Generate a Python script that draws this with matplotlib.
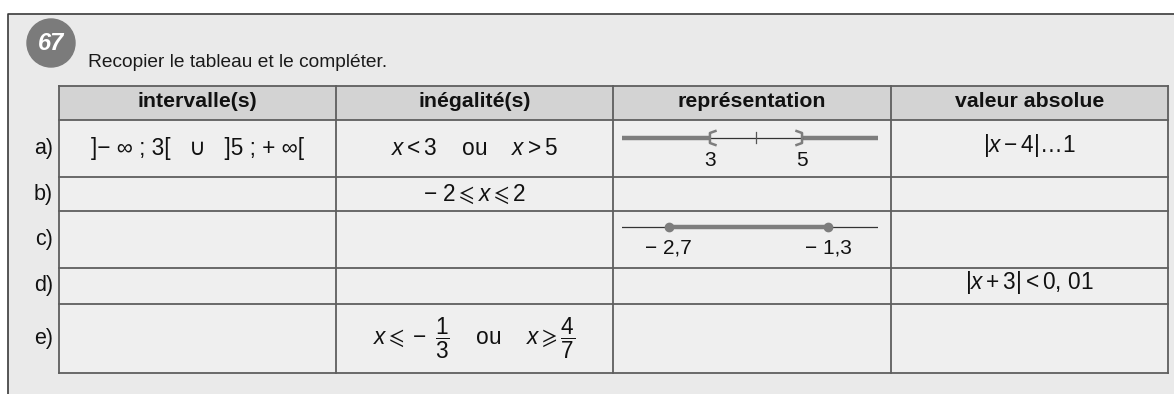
import matplotlib.pyplot as plt
from matplotlib.patches import Rectangle, Circle

plt.rcParams['font.family'] = ['Liberation Sans', 'DejaVu Sans']
plt.rcParams['mathtext.fontset'] = 'custom'
plt.rcParams['mathtext.rm'] = 'Liberation Sans'
plt.rcParams['mathtext.it'] = 'Liberation Sans:italic'
plt.rcParams['mathtext.bf'] = 'Liberation Sans:bold'
plt.rcParams['mathtext.fallback'] = 'stixsans'

# --- contenu du tableau ---
exercise_number = "67"
instruction = "Recopier le tableau et le compléter."
headers = ["intervalle(s)", "inégalité(s)", "représentation", "valeur absolue"]
row_labels = ["a)", "b)", "c)", "d)", "e)"]
intervals = ["]− ∞ ; 3[   ∪   ]5 ; + ∞[", "", "", "", ""]
inequalities = [
    r"$x<3\quad\ \mathrm{ou}\quad\ x>5$",
    r"$-\ 2\leqslant x\leqslant 2$",
    "",
    "",
    r"$x\leqslant -\ \dfrac{1}{3}\quad\ \mathrm{ou}\quad\ x\geqslant \dfrac{4}{7}$",
]
absolute_values = [r"$|x-4|\ldots1$", "", "", r"$|x+3|<0,\,01$", ""]

# droites graduées (lignes a et c)
line_a_bounds = [3, 5]
line_a_tick = 4
line_a_labels = ["3", "5"]
line_c_bounds = [-2.7, -1.3]
line_c_labels = ["− 2,7", "− 1,3"]

# --- mise en page (pixels) ---
W, H = 1174, 394
col_edges = [59, 336, 613, 891, 1168]
row_edges = [86, 120, 177, 211, 268, 304, 373]
line_left, line_right = 622, 878

fig = plt.figure(figsize=(W / 100, H / 100), dpi=100)
fig.patch.set_facecolor("white")
ax = fig.add_axes([0, 0, 1, 1])
ax.set_xlim(0, W)
ax.set_ylim(H, 0)
ax.axis('off')

# fond de page + cadre
ax.add_patch(Rectangle((8, 14), W - 8, H - 14, color="#eaeaea", zorder=0))
ax.plot([8, 8, W], [H, 14, 14], color="#3a3a3a", lw=1.2, zorder=1)

# pastille du numéro
ax.add_patch(Circle((51, 43), 24, color="#7b7b7b", zorder=2))
ax.text(51, 43, exercise_number, color="white", fontsize=17, fontweight="bold",
        style="italic", ha="center", va="center", zorder=3)
ax.text(88, 62, instruction, fontsize=13.8, color="#1a1a1a", ha="left", va="center")

# fonds du tableau
ax.add_patch(Rectangle((col_edges[0], row_edges[0]), col_edges[-1] - col_edges[0],
                       row_edges[1] - row_edges[0], color="#d3d3d3", zorder=1))
ax.add_patch(Rectangle((col_edges[0], row_edges[1]), col_edges[-1] - col_edges[0],
                       row_edges[-1] - row_edges[1], color="#efefef", zorder=1))

# grille
for y in row_edges:
    ax.plot([col_edges[0], col_edges[-1]], [y, y], color="#5e5e5e", lw=1.3, zorder=2)
for x in col_edges:
    ax.plot([x, x], [row_edges[0], row_edges[-1]], color="#5e5e5e", lw=1.3, zorder=2)

def cell_center(r, c):
    return (col_edges[c] + col_edges[c + 1]) / 2, (row_edges[r] + row_edges[r + 1]) / 2

# en-têtes
for c, h in enumerate(headers):
    x, y = cell_center(0, c)
    ax.text(x, y - 2, h, fontsize=15.3, fontweight="bold", color="#111111",
            ha="center", va="center", zorder=3)

# lignes
for i, lab in enumerate(row_labels):
    _, y = cell_center(i + 1, 0)
    ax.text(53, y, lab, fontsize=15.5, color="#111111", ha="right", va="center")
    for c, col in enumerate([intervals, inequalities, None, absolute_values]):
        if col is None or not col[i]:
            continue
        x, yc = cell_center(i + 1, c)
        if c == 3:
            yc -= 3
        ax.text(x, yc, col[i], fontsize=16.3, color="#111111",
                ha="center", va="center", zorder=3)

def line_axes(row, xlim):
    top, bottom = row_edges[row], row_edges[row + 1]
    nax = fig.add_axes([line_left / W, 1 - bottom / H,
                        (line_right - line_left) / W, (bottom - top) / H])
    nax.set_xlim(*xlim)
    nax.set_ylim(bottom - top, 0)
    nax.axis('off')
    return nax

grey_thick = "#7d7d7d"
dark_thin = "#333333"

# a) ]-inf ; 3[ U ]5 ; +inf[
xlim_a = (1.09, 6.65)
ya = 18
na = line_axes(1, xlim_a)
na.plot([xlim_a[0], line_a_bounds[0]], [ya, ya], color=grey_thick, lw=3.2, solid_capstyle="butt")
na.plot([line_a_bounds[1], xlim_a[1]], [ya, ya], color=grey_thick, lw=3.2, solid_capstyle="butt")
na.plot(line_a_bounds, [ya, ya], color=dark_thin, lw=0.9)
na.plot([line_a_tick, line_a_tick], [ya - 6, ya + 5], color="#555555", lw=0.9)
d = 0.12
lo, hi = line_a_bounds
na.plot([lo + d, lo, lo, lo + d], [ya - 7, ya - 5, ya + 5, ya + 7], color=grey_thick, lw=1.8)
na.plot([hi - d, hi, hi, hi - d], [ya - 7, ya - 5, ya + 5, ya + 7], color=grey_thick, lw=1.8)
for v, lab in zip(line_a_bounds, line_a_labels):
    na.text(v, 40, lab, fontsize=15, color="#111111", ha="center", va="center")

# c) [-2,7 ; -1,3]
xlim_c = (-3.11, -0.86)
yc_line = 16
nc = line_axes(3, xlim_c)
nc.plot(xlim_c, [yc_line, yc_line], color=dark_thin, lw=0.9)
nc.plot(line_c_bounds, [yc_line, yc_line], color=grey_thick, lw=3.2,
        marker="o", markersize=6, solid_capstyle="butt")
for v, lab in zip(line_c_bounds, line_c_labels):
    nc.text(v, 37, lab, fontsize=15, color="#111111", ha="center", va="center")

fig.savefig("out.png", dpi=100)
